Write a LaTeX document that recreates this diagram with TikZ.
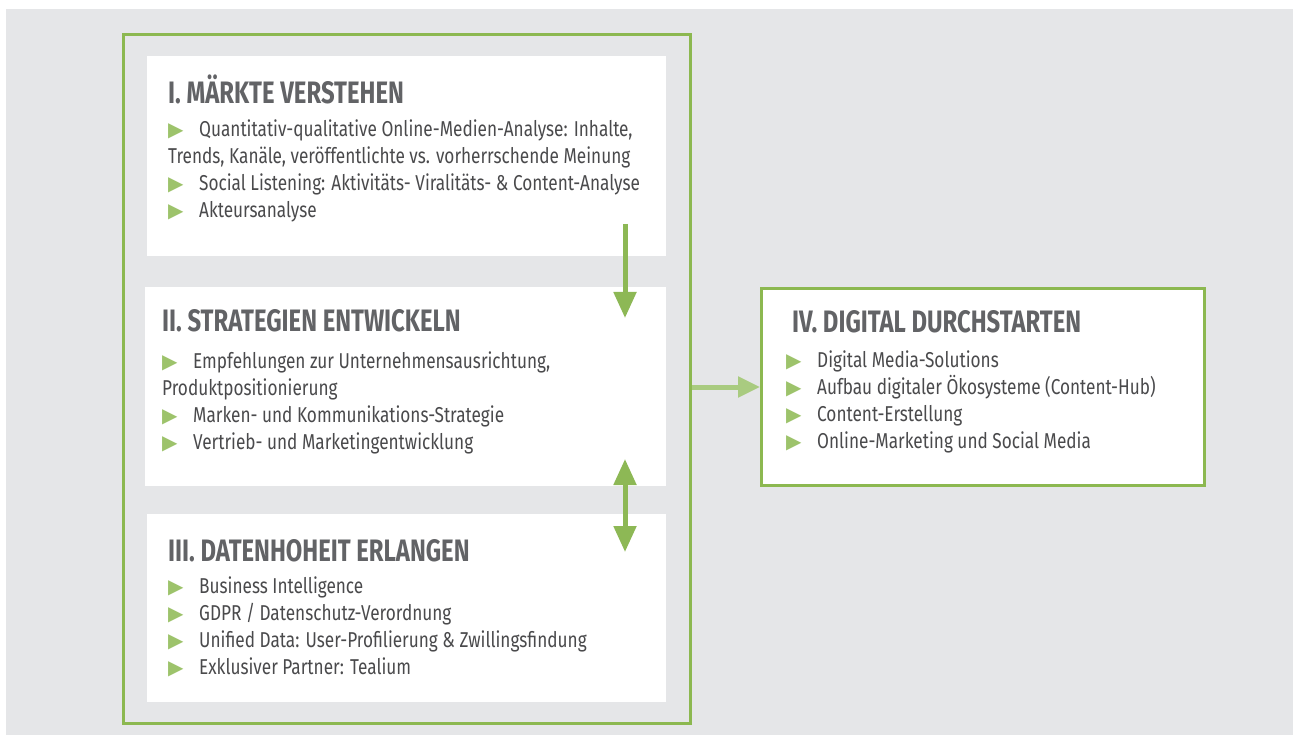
\documentclass[tikz,border=0pt]{standalone}
\usepackage{fontspec}
\setmainfont[FakeStretch=0.8]{Fira Sans}
\newfontfamily\headfont[FakeStretch=0.77]{Fira Sans}
\newfontfamily\symfont{DejaVu Sans}
\usetikzlibrary{arrows.meta,positioning}

\definecolor{bggray}{HTML}{E5E6E8}
\definecolor{framegreen}{HTML}{8CB850}
\definecolor{arrowgreen}{HTML}{8DB855}
\definecolor{lightgreen}{HTML}{A9CB80}
\definecolor{headgray}{HTML}{626366}
\definecolor{bodygray}{HTML}{4A4A4C}
\definecolor{bulletgreen}{HTML}{9DC36B}

\newcommand{\bul}{\makebox[31pt][l]{\textcolor{bulletgreen}{\symfont\fontsize{20}{20}\selectfont ▶}}}

\begin{document}
\begin{tikzpicture}[x=1pt,y=-1pt,
    panel/.style={fill=white,inner sep=0pt,anchor=north west},
    greenbox/.style={panel,draw=framegreen,line width=3pt},
    head/.style={anchor=base west,inner sep=0pt,text=headgray,font=\headfont\bfseries\fontsize{31}{31}\selectfont},
    body/.style={anchor=base west,inner sep=0pt,align=left,text=bodygray,font=\fontsize{21.5}{27}\selectfont},
    flow/.style={draw=arrowgreen,line width=5pt,-{Triangle[width=22pt,length=26pt]}}]

    % background
    \fill[white] (0,0) rectangle (1293,735);
    \fill[bggray] (6,9) rectangle (1293,735);

    % boxes
    \node[greenbox,fill=none,minimum width=567pt,minimum height=689pt] (frame) at (122,33) {};
    \node[panel,minimum width=519pt,minimum height=200pt] (m1) at (147,56) {};
    \node[panel,minimum width=521pt,minimum height=199pt] (m2) at (145,287) {};
    \node[panel,minimum width=519pt,minimum height=188pt] (m3) at (147,514) {};
    \node[greenbox,minimum width=443pt,minimum height=197pt] (m4) at (760,287) {};

    % headings
    \node[head] (h1) at (168,104) {I. MÄRKTE VERSTEHEN};
    \node[head] (h2) at (162,331) {II. STRATEGIEN ENTWICKELN};
    \node[head] (h3) at (168,561) {III. DATENHOHEIT ERLANGEN};
    \node[head] (h4) at (792,333) {IV. DIGITAL DURCHSTARTEN};

    % lists (anchored at the last baseline)
    \node[body] (l1) at (168,218) {\bul Quantitativ-qualitative Online-Medien-Analyse: Inhalte,\\
      Trends, Kanäle, veröffentlichte vs. vorherrschende Meinung\\
      \bul Social Listening: Aktivitäts- Viralitäts- \& Content-Analyse\\
      \bul Akteursanalyse};
    \node[body] (l2) at (162,449) {\bul Empfehlungen zur Unternehmensausrichtung,\\
      Produktpositionierung\\
      \bul Marken- und Kommunikations-Strategie\\
      \bul Vertrieb- und Marketingentwicklung};
    \node[body] (l3) at (168,674) {\bul Business Intelligence\\
      \bul GDPR / Datenschutz-Verordnung\\
      \bul Unified Data: User-Profilierung \& Zwillingsfindung\\
      \bul Exklusiver Partner: Tealium};
    \node[body] (l4) at (786,448) {\bul Digital Media-Solutions\\
      \bul Aufbau digitaler Ökosysteme (Content-Hub)\\
      \bul Content-Erstellung\\
      \bul Online-Marketing und Social Media};

    % arrows
    \coordinate (a1) at (625,224);
    \coordinate (a2) at (625,318);
    \coordinate (b1) at (625,459);
    \coordinate (b2) at (625,552);
    \draw[flow] (a1) -- (a2);
    \draw[flow,{Triangle[width=22pt,length=26pt]}-{Triangle[width=22pt,length=26pt]}] (b1) -- (b2);
    \draw[flow,draw=lightgreen,-{Triangle[width=20pt,length=22pt]}] (frame.east |- m4.west) -- (m4.west);
\end{tikzpicture}
\end{document}
